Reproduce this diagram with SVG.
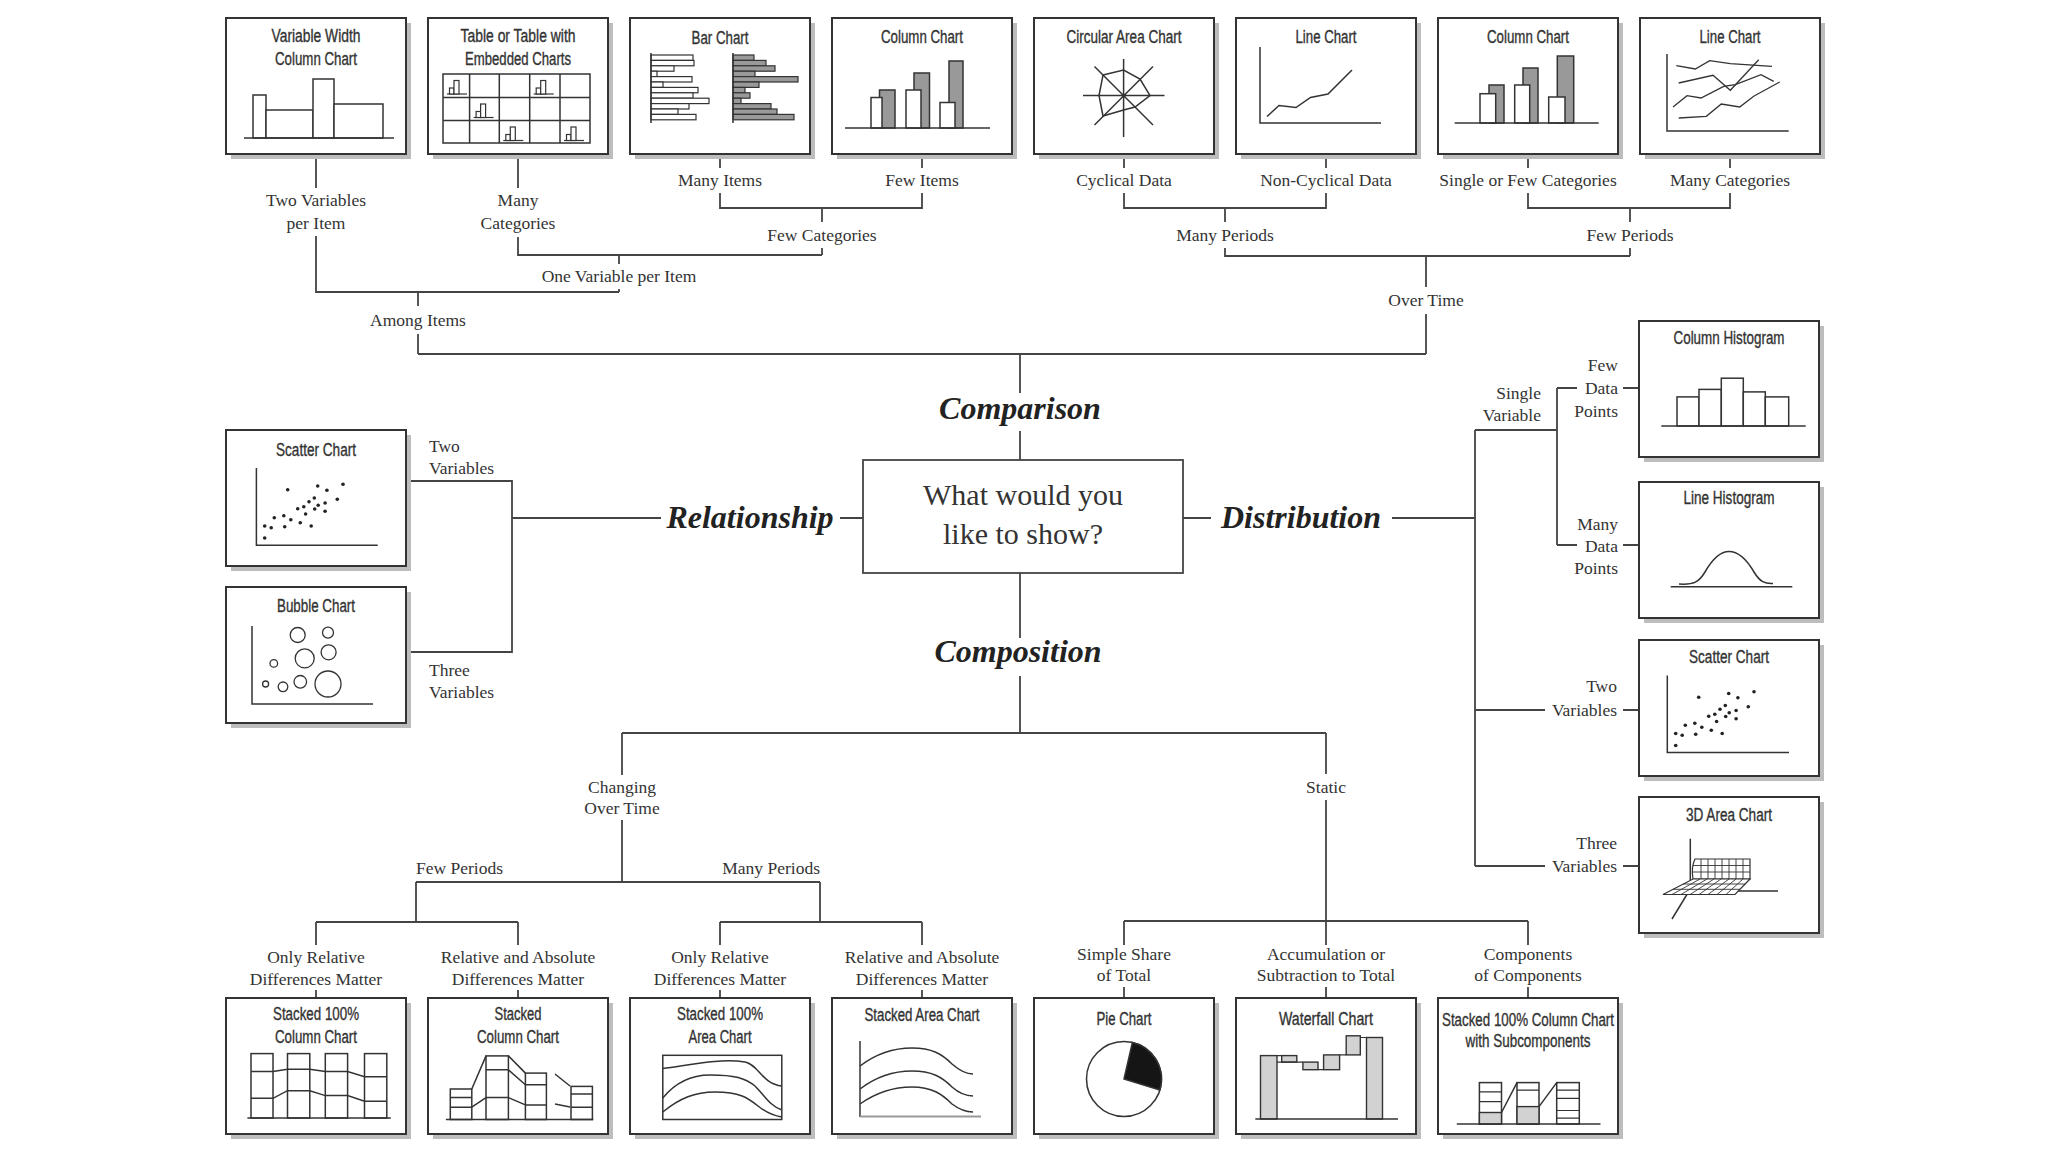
<svg xmlns="http://www.w3.org/2000/svg" xmlns:xlink="http://www.w3.org/1999/xlink" width="2048" height="1152" viewBox="0 0 2048 1152">
<defs>
<style>
.sh{fill:#bdbdbd}
.bx{fill:#fff;stroke:#333;stroke-width:2}
.ln{fill:none;stroke:#444;stroke-width:1.8}
.c{fill:none;stroke:#333;stroke-width:1.5}
.cw{fill:#fff;stroke:#333;stroke-width:1.5}
.cg{fill:#999;stroke:#333;stroke-width:1.5}
.cl{fill:#d2d2d2;stroke:#333;stroke-width:1.4}
.thin{fill:none;stroke:#333;stroke-width:0.9}
.dot{fill:#222}
.ttl{font-family:"Liberation Sans Narrow","Liberation Sans",Arial,sans-serif;font-size:17.5px;fill:#333;stroke:#333;stroke-width:0.35;text-anchor:middle}
.lbl{font-family:"Liberation Serif","Times New Roman",serif;font-size:17.5px;fill:#333;text-anchor:middle}
.st{text-anchor:start}
.en{text-anchor:end}
.big{font-family:"Liberation Serif","Times New Roman",serif;font-style:italic;font-weight:bold;font-size:32px;fill:#222;text-anchor:middle}
.q{font-family:"Liberation Serif","Times New Roman",serif;font-size:30px;fill:#333;text-anchor:middle}
</style>
<g id="mini"><path class="c" style="stroke-width:1.2" d="M4,20 H24"/><rect class="cw" style="stroke-width:1.2" x="6.5" y="14" width="4.5" height="6"/><rect class="cw" style="stroke-width:1.2" x="11" y="6.5" width="5" height="13.5"/></g>
<g id="dots">
<circle class="dot" cx="38.7" cy="108" r="1.8"/><circle class="dot" cx="38.7" cy="96" r="1.8"/><circle class="dot" cx="45.2" cy="97.7" r="1.8"/><circle class="dot" cx="48.3" cy="87.7" r="1.8"/><circle class="dot" cx="57.8" cy="85.7" r="1.8"/><circle class="dot" cx="58.7" cy="96.7" r="1.8"/><circle class="dot" cx="61.7" cy="59.7" r="1.8"/><circle class="dot" cx="64.8" cy="89.7" r="1.8"/><circle class="dot" cx="71.7" cy="78.7" r="1.8"/><circle class="dot" cx="74.3" cy="92.7" r="1.8"/><circle class="dot" cx="77.8" cy="76.7" r="1.8"/><circle class="dot" cx="79.6" cy="84" r="1.8"/><circle class="dot" cx="83" cy="71.7" r="1.8"/><circle class="dot" cx="85.2" cy="96" r="1.8"/><circle class="dot" cx="88.3" cy="68" r="1.8"/><circle class="dot" cx="88.7" cy="79" r="1.8"/><circle class="dot" cx="91.7" cy="56" r="1.8"/><circle class="dot" cx="92.2" cy="75.3" r="1.8"/><circle class="dot" cx="99.1" cy="73" r="1.8"/><circle class="dot" cx="99.1" cy="81.3" r="1.8"/><circle class="dot" cx="100.9" cy="60.3" r="1.8"/><circle class="dot" cx="111.3" cy="69.3" r="1.8"/><circle class="dot" cx="117" cy="54.3" r="1.8"/>
</g>
</defs>
<rect width="2048" height="1152" fill="#fff"/>

<!-- connectors and branch labels -->
<g id="connectors">
<path class="ln" d="M316,154 V188 M316,236 V292 H619 M518,154 V188 M518,237 V255 H822 M720,154 V168 M720,193 V208 H922 V193 M922,168 V154 M822,208 V222 M822,248 V255 M619,255 V264 M619,289 V292 M418,292 V306 M418,334 V354 M418,354 H1426 M1020,354 V393 M1020,431 V460"/>
<path class="ln" d="M1124,154 V168 M1124,193 V208 H1326 V193 M1326,168 V154 M1225,208 V222 M1225,248 V256 H1630 M1528,154 V168 M1528,193 V208 H1730 V193 M1730,168 V154 M1630,208 V222 M1630,248 V256 M1426,256 V287 M1426,314 V354"/>
<path class="ln" d="M863,518 H840 M661,518 H512 M406,481 H512 V652 H406"/>
<path class="ln" d="M1183,518 H1211 M1392,518 H1475 M1475,430 V866 M1475,430 H1557 M1557,388 V545 M1557,388 H1577 M1557,545 H1577 M1623,388 H1639 M1623,545 H1639 M1475,710 H1545 M1623,710 H1639 M1475,866 H1545 M1623,866 H1639"/>
<path class="ln" d="M1020,573 V638 M1020,676 V733 M622,733 H1326 M622,733 V775 M622,820 V882 M416,882 H820 M416,882 V922 M316,922 H518 M820,882 V922 M720,922 H922 M316,922 V945 M518,922 V945 M720,922 V945 M922,922 V945 M316,990 V998 M518,990 V998 M720,990 V998 M922,990 V998"/>
<path class="ln" d="M1326,733 V774 M1326,800 V945 M1124,921 H1528 M1124,921 V945 M1528,921 V945 M1124,987 V998 M1326,987 V998 M1528,987 V998"/>

<text class="lbl" x="316" y="206">Two Variables</text>
<text class="lbl" x="316" y="229">per Item</text>
<text class="lbl" x="518" y="206">Many</text>
<text class="lbl" x="518" y="229">Categories</text>
<text class="lbl" x="720" y="186">Many Items</text>
<text class="lbl" x="922" y="186">Few Items</text>
<text class="lbl" x="1124" y="186">Cyclical Data</text>
<text class="lbl" x="1326" y="186">Non-Cyclical Data</text>
<text class="lbl" x="1528" y="186">Single or Few Categories</text>
<text class="lbl" x="1730" y="186">Many Categories</text>
<text class="lbl" x="822" y="241">Few Categories</text>
<text class="lbl" x="1225" y="241">Many Periods</text>
<text class="lbl" x="1630" y="241">Few Periods</text>
<text class="lbl" x="619" y="282">One Variable per Item</text>
<text class="lbl" x="418" y="326">Among Items</text>
<text class="lbl" x="1426" y="306">Over Time</text>

<text class="lbl st" x="429" y="452">Two</text>
<text class="lbl st" x="429" y="474">Variables</text>
<text class="lbl st" x="429" y="676">Three</text>
<text class="lbl st" x="429" y="698">Variables</text>

<text class="lbl en" x="1541" y="399">Single</text>
<text class="lbl en" x="1541" y="421">Variable</text>
<text class="lbl en" x="1618" y="371">Few</text>
<text class="lbl en" x="1618" y="394">Data</text>
<text class="lbl en" x="1618" y="417">Points</text>
<text class="lbl en" x="1618" y="530">Many</text>
<text class="lbl en" x="1618" y="552">Data</text>
<text class="lbl en" x="1618" y="574">Points</text>
<text class="lbl en" x="1617" y="692">Two</text>
<text class="lbl en" x="1617" y="716">Variables</text>
<text class="lbl en" x="1617" y="849">Three</text>
<text class="lbl en" x="1617" y="872">Variables</text>

<text class="lbl" x="622" y="793">Changing</text>
<text class="lbl" x="622" y="814">Over Time</text>
<text class="lbl" x="1326" y="793">Static</text>
<text class="lbl st" x="416" y="874">Few Periods</text>
<text class="lbl en" x="820" y="874">Many Periods</text>
<text class="lbl" x="316" y="963">Only Relative</text>
<text class="lbl" x="316" y="985">Differences Matter</text>
<text class="lbl" x="518" y="963">Relative and Absolute</text>
<text class="lbl" x="518" y="985">Differences Matter</text>
<text class="lbl" x="720" y="963">Only Relative</text>
<text class="lbl" x="720" y="985">Differences Matter</text>
<text class="lbl" x="922" y="963">Relative and Absolute</text>
<text class="lbl" x="922" y="985">Differences Matter</text>
<text class="lbl" x="1124" y="960">Simple Share</text>
<text class="lbl" x="1124" y="981">of Total</text>
<text class="lbl" x="1326" y="960">Accumulation or</text>
<text class="lbl" x="1326" y="981">Subtraction to Total</text>
<text class="lbl" x="1528" y="960">Components</text>
<text class="lbl" x="1528" y="981">of Components</text>

<text class="big" x="1020" y="419">Comparison</text>
<text class="big" x="750" y="528">Relationship</text>
<text class="big" x="1301" y="528">Distribution</text>
<text class="big" x="1018" y="662">Composition</text>
</g>

<g id="n-question">
<rect x="863" y="460" width="320" height="113" fill="#fff" stroke="#444" stroke-width="1.8"/>
<text class="q" x="1023" y="505">What would you</text>
<text class="q" x="1023" y="544">like to show?</text>
</g>

<!-- top row -->
<g id="n-variable-width" transform="translate(226,18)">
<rect class="sh" x="5" y="5" width="180" height="136"/><rect class="bx" width="180" height="136"/>
<text class="ttl" x="90" y="24" textLength="89" lengthAdjust="spacingAndGlyphs">Variable Width</text><text class="ttl" x="90" y="47" textLength="82" lengthAdjust="spacingAndGlyphs">Column Chart</text>
<rect class="cw" x="27" y="77" width="13" height="43"/><rect class="cw" x="40" y="92" width="47" height="28"/><rect class="cw" x="87" y="61" width="21" height="59"/><rect class="cw" x="108" y="86" width="49" height="34"/>
<path class="c" d="M18,120 H168"/>
</g>

<g id="n-table" transform="translate(428,18)">
<rect class="sh" x="5" y="5" width="180" height="136"/><rect class="bx" width="180" height="136"/>
<text class="ttl" x="90" y="24" textLength="115" lengthAdjust="spacingAndGlyphs">Table or Table with</text><text class="ttl" x="90" y="47" textLength="106" lengthAdjust="spacingAndGlyphs">Embedded Charts</text>
<rect class="c" x="15" y="56" width="147" height="69"/>
<path class="c" d="M41.6,56 V125 M71.3,56 V125 M101.7,56 V125 M132,56 V125 M15,79.5 H162 M15,102.5 H162"/>
<use xlink:href="#mini" href="#mini" x="15" y="56"/><use xlink:href="#mini" href="#mini" x="101.7" y="56"/><use xlink:href="#mini" href="#mini" x="41.6" y="79.5"/><use xlink:href="#mini" href="#mini" x="71.3" y="102.5"/><use xlink:href="#mini" href="#mini" x="132" y="102.5"/>
</g>

<g id="n-bar-chart" transform="translate(630,18)">
<rect class="sh" x="5" y="5" width="180" height="136"/><rect class="bx" width="180" height="136"/>
<text class="ttl" x="90" y="26" textLength="57" lengthAdjust="spacingAndGlyphs">Bar Chart</text>
<g class="cw" style="stroke-width:1.2">
<rect x="21" y="37" width="42" height="5.4"/><rect x="21" y="42.4" width="43" height="5.4"/><rect x="21" y="47.8" width="23" height="5.4"/><rect x="21" y="53.2" width="6" height="5.4"/><rect x="21" y="58.6" width="41" height="5.4"/><rect x="21" y="64" width="12" height="5.4"/><rect x="21" y="69.4" width="47" height="5.4"/><rect x="21" y="74.8" width="42" height="5.4"/><rect x="21" y="80.2" width="58" height="5.4"/><rect x="21" y="85.6" width="38" height="5.4"/><rect x="21" y="91" width="27" height="5.4"/><rect x="21" y="96.4" width="45" height="5.4"/>
</g>
<g class="cg" style="stroke-width:1.2">
<rect x="103" y="37" width="21" height="5.4"/><rect x="103" y="42.4" width="33" height="5.4"/><rect x="103" y="47.8" width="42" height="5.4"/><rect x="103" y="53.2" width="22" height="5.4"/><rect x="103" y="58.6" width="65" height="5.4"/><rect x="103" y="64" width="26" height="5.4"/><rect x="103" y="69.4" width="12" height="5.4"/><rect x="103" y="74.8" width="17" height="5.4"/><rect x="103" y="80.2" width="8" height="5.4"/><rect x="103" y="85.6" width="38" height="5.4"/><rect x="103" y="91" width="44" height="5.4"/><rect x="103" y="96.4" width="61" height="5.4"/>
</g>
<path class="c" d="M21,35 V105 M103,35 V105"/>
</g>

<g id="n-column-chart-1" transform="translate(832,18)">
<rect class="sh" x="5" y="5" width="180" height="136"/><rect class="bx" width="180" height="136"/>
<text class="ttl" x="90" y="25" textLength="82" lengthAdjust="spacingAndGlyphs">Column Chart</text>
<rect class="cg" x="47.5" y="72" width="15.5" height="38"/><rect class="cw" x="39" y="79.5" width="11" height="30.5"/>
<rect class="cg" x="82" y="55" width="15.5" height="55"/><rect class="cw" x="74" y="72" width="15" height="38"/>
<rect class="cg" x="117" y="43" width="14" height="67"/><rect class="cw" x="108" y="84.5" width="15" height="25.5"/>
<path class="c" d="M13,110 H158"/>
</g>

<g id="n-circular-area" transform="translate(1034,18)">
<rect class="sh" x="5" y="5" width="180" height="136"/><rect class="bx" width="180" height="136"/>
<text class="ttl" x="90" y="25" textLength="115" lengthAdjust="spacingAndGlyphs">Circular Area Chart</text>
<path class="c" d="M89.6,41 V119 M49,77.5 H130.5 M60.5,48.5 L119,107 M119,48.5 L60.5,107"/>
<polygon class="c" points="69,57 89.6,52 106,61 116,77.5 101,89 89.6,92 69,98 65,77.5"/>
</g>

<g id="n-line-chart-1" transform="translate(1236,18)">
<rect class="sh" x="5" y="5" width="180" height="136"/><rect class="bx" width="180" height="136"/>
<text class="ttl" x="90" y="25" textLength="61" lengthAdjust="spacingAndGlyphs">Line Chart</text>
<path class="c" d="M24,29 V105 H145"/>
<polyline class="c" points="31,98.5 43,87.5 60,89.5 74.5,79.5 92,76 116,52"/>
</g>

<g id="n-column-chart-2" transform="translate(1438,18)">
<rect class="sh" x="5" y="5" width="180" height="136"/><rect class="bx" width="180" height="136"/>
<text class="ttl" x="90" y="25" textLength="82" lengthAdjust="spacingAndGlyphs">Column Chart</text>
<rect class="cg" x="51" y="67" width="15" height="38"/><rect class="cw" x="42" y="75.7" width="15.7" height="29.3"/>
<rect class="cg" x="85" y="50" width="15" height="55"/><rect class="cw" x="76.7" y="67" width="15" height="38"/>
<rect class="cg" x="119.3" y="38" width="16.4" height="67"/><rect class="cw" x="110.7" y="79" width="16.3" height="26"/>
<path class="c" d="M16.7,105 H160.7"/>
</g>

<g id="n-line-chart-2" transform="translate(1640,18)">
<rect class="sh" x="5" y="5" width="180" height="136"/><rect class="bx" width="180" height="136"/>
<text class="ttl" x="90" y="25" textLength="61" lengthAdjust="spacingAndGlyphs">Line Chart</text>
<path class="c" d="M27,36 V113 H148.7"/>
<polyline class="c" style="stroke-width:1.3" points="36.3,47.7 55.3,51 69.7,42.7 90.3,45.7 132,48.3"/>
<polyline class="c" style="stroke-width:1.3" points="38.7,65 73,57.3 90.3,72.3 118.7,41.7"/>
<polyline class="c" style="stroke-width:1.3" points="33,89 47,77.7 61,80 83.7,68.3 95.3,66.7 121,56.7 133.7,63.3"/>
<polyline class="c" style="stroke-width:1.3" points="38.7,100 66.3,98.3 81.3,86 99.7,89 113.7,78.3 139.7,64"/>
</g>

<!-- left -->
<g id="n-scatter-left" transform="translate(226,430)">
<rect class="sh" x="5" y="5" width="180" height="136"/><rect class="bx" width="180" height="136"/>
<text class="ttl" x="90" y="26" textLength="80" lengthAdjust="spacingAndGlyphs">Scatter Chart</text>
<path class="c" d="M30.4,38 V115.3 H151.7"/>
<use xlink:href="#dots" href="#dots"/>
</g>

<g id="n-bubble" transform="translate(226,587)">
<rect class="sh" x="5" y="5" width="180" height="136"/><rect class="bx" width="180" height="136"/>
<text class="ttl" x="90" y="25" textLength="78" lengthAdjust="spacingAndGlyphs">Bubble Chart</text>
<path class="c" d="M26,39 V117 H147"/>
<g class="c" style="stroke-width:1.3">
<circle cx="71.7" cy="48" r="7.5"/><circle cx="102" cy="45.6" r="5.5"/><circle cx="78.7" cy="71.4" r="9.5"/><circle cx="102.6" cy="65.3" r="7.5"/><circle cx="47.8" cy="76.4" r="3.8"/><circle cx="39.6" cy="97" r="3"/><circle cx="57" cy="99.8" r="4.8"/><circle cx="74.3" cy="94.8" r="6.3"/><circle cx="102" cy="97" r="13"/>
</g>
</g>

<!-- right -->
<g id="n-column-histogram" transform="translate(1639,321)">
<rect class="sh" x="5" y="5" width="180" height="136"/><rect class="bx" width="180" height="136"/>
<text class="ttl" x="90" y="23" textLength="111" lengthAdjust="spacingAndGlyphs">Column Histogram</text>
<rect class="cw" x="38" y="75.9" width="22" height="29.1"/><rect class="cw" x="60" y="68.4" width="22.3" height="36.6"/><rect class="cw" x="82.3" y="57.2" width="22" height="47.8"/><rect class="cw" x="104.3" y="70.9" width="22" height="34.1"/><rect class="cw" x="126.3" y="75.9" width="23.4" height="29.1"/>
<path class="c" d="M22.3,105 H166.7"/>
</g>

<g id="n-line-histogram" transform="translate(1639,482)">
<rect class="sh" x="5" y="5" width="180" height="136"/><rect class="bx" width="180" height="136"/>
<text class="ttl" x="90" y="22" textLength="91" lengthAdjust="spacingAndGlyphs">Line Histogram</text>
<path class="c" d="M31.7,104.8 H153.3"/>
<path class="c" d="M40,102 C55,103 60,100 66,90 C74,76 82,69.5 90,69.5 C100,69.5 108,78 115,90 C121,100 126,102 134,101.5"/>
</g>

<g id="n-scatter-right" transform="translate(1639,640)">
<rect class="sh" x="5" y="5" width="180" height="136"/><rect class="bx" width="180" height="136"/>
<text class="ttl" x="90" y="23" textLength="80" lengthAdjust="spacingAndGlyphs">Scatter Chart</text>
<path class="c" d="M28.3,35.4 V112.6 H150"/>
<use xlink:href="#dots" href="#dots" x="-2" y="-2.5"/>
</g>

<g id="n-3d-area" transform="translate(1639,797)">
<rect class="sh" x="5" y="5" width="180" height="136"/><rect class="bx" width="180" height="136"/>
<text class="ttl" x="90" y="24" textLength="86" lengthAdjust="spacingAndGlyphs">3D Area Chart</text>
<path class="c" d="M51.3,41.8 V92 L33,122 M51.3,94 H139"/>
<path class="cw" style="stroke-width:1.2" d="M56,62 H111 V82 H54 Q52,70 56,62 Z"/>
<path class="thin" d="M62,62 V82 M69,62 V82 M76,62 V82 M83,62 V82 M90,62 V82 M97,62 V82 M104,62 V82 M54,68.5 H111 M53,75 H111"/>
<path class="cw" style="stroke-width:1.2" d="M54,82 H111 L96,97.5 H24 Z"/>
<path class="thin" d="M33,97.5 L61,82 M42,97.5 L68,82 M51,97.5 L75,82 M60,97.5 L82,82 M69,97.5 L90,82 M78,97.5 L97,82 M87,97.5 L104,82 M44,87 H106 M34,92.3 H101"/>
</g>

<!-- bottom row -->
<g id="n-stacked100-column" transform="translate(226,998)">
<rect class="sh" x="5" y="5" width="180" height="136"/><rect class="bx" width="180" height="136"/>
<text class="ttl" x="90" y="22" textLength="86" lengthAdjust="spacingAndGlyphs">Stacked 100%</text><text class="ttl" x="90" y="45" textLength="82" lengthAdjust="spacingAndGlyphs">Column Chart</text>
<rect class="cw" x="25" y="55.6" width="22" height="64.4"/><rect class="cw" x="61.5" y="55.6" width="22.3" height="64.4"/><rect class="cw" x="99.3" y="55.6" width="22.3" height="64.4"/><rect class="cw" x="138.5" y="55.6" width="22.3" height="64.4"/>
<polyline class="c" points="25,73.5 47,73.5 61.5,71.2 83.8,71.2 99.3,73.5 121.6,73.5 138.5,78.8 160.8,78.8"/>
<polyline class="c" points="25,100.3 47,100.3 61.5,92.7 83.8,92.7 99.3,97.6 121.6,97.6 138.5,103.3 160.8,103.3"/>
<path class="c" d="M21.4,120 H164.8"/>
</g>

<g id="n-stacked-column" transform="translate(428,998)">
<rect class="sh" x="5" y="5" width="180" height="136"/><rect class="bx" width="180" height="136"/>
<text class="ttl" x="90" y="22" textLength="47" lengthAdjust="spacingAndGlyphs">Stacked</text><text class="ttl" x="90" y="45" textLength="82" lengthAdjust="spacingAndGlyphs">Column Chart</text>
<rect class="cw" x="22.3" y="91" width="21.5" height="30.5"/><rect class="cw" x="58" y="57.9" width="22.4" height="63.6"/><rect class="cw" x="97.4" y="75.1" width="21" height="46.4"/><rect class="cw" x="143" y="88.4" width="21.4" height="33.1"/>
<path class="c" d="M22.3,99.6 H43.8 M22.3,109.2 H43.8 M58,71.8 H80.4 M58,99.6 H80.4 M97.4,86.7 H118.4 M97.4,106.9 H118.4 M143,96 H164.4 M143,109.2 H164.4"/>
<path class="c" d="M43.8,91 L58,57.9 M43.8,109.2 L58,99.6 M80.4,57.9 L97.4,75.1 M80.4,71.8 L97.4,86.7 M80.4,99.6 L97.4,106.9 M127,76 L142,88 M127,106 L142,109"/>
<path class="c" d="M17.9,121.5 H165.3"/>
</g>

<g id="n-stacked100-area" transform="translate(630,998)">
<rect class="sh" x="5" y="5" width="180" height="136"/><rect class="bx" width="180" height="136"/>
<text class="ttl" x="90" y="22" textLength="86" lengthAdjust="spacingAndGlyphs">Stacked 100%</text><text class="ttl" x="90" y="45" textLength="63" lengthAdjust="spacingAndGlyphs">Area Chart</text>
<rect class="c" x="32.8" y="57.3" width="119" height="64.2"/>
<path class="c" d="M32.8,70.5 C60,67 90,60 115,64 C128,66 132,86 151.8,88"/>
<path class="c" d="M32.8,100 C45,85 60,77 80,77 C105,77 115,80 125,88 C135,98 140,108 151.8,112"/>
<path class="c" d="M32.8,114 C50,100 65,94 85,94 C110,94 118,100 128,108 C138,116 145,118 151.8,119"/>
</g>

<g id="n-stacked-area" transform="translate(832,998)">
<rect class="sh" x="5" y="5" width="180" height="136"/><rect class="bx" width="180" height="136"/>
<text class="ttl" x="90" y="23" textLength="115" lengthAdjust="spacingAndGlyphs">Stacked Area Chart</text>
<path class="c" d="M28,43 V119"/>
<path d="M28,118.5 H149" fill="none" stroke="#999" stroke-width="1.8"/>
<path class="c" d="M28,68 C45,55 62,50 80,50 C100,50 110,56 120,66 C128,73 135,76 141,76"/>
<path class="c" d="M28,91 C45,78 62,73 80,73 C100,73 110,79 120,89 C128,96 135,98 141,98"/>
<path class="c" d="M28,106 C45,94 62,89 80,89 C100,89 110,96 120,106 C128,112 135,114 141,114"/>
</g>

<g id="n-pie" transform="translate(1034,998)">
<rect class="sh" x="5" y="5" width="180" height="136"/><rect class="bx" width="180" height="136"/>
<text class="ttl" x="90" y="27" textLength="55" lengthAdjust="spacingAndGlyphs">Pie Chart</text>
<circle class="cw" cx="90" cy="81" r="37.5"/>
<path d="M90,81 L98.4,44.5 A37.5,37.5 0 0 1 125.9,92 Z" fill="#151515" stroke="#333" stroke-width="1.5"/>
</g>

<g id="n-waterfall" transform="translate(1236,998)">
<rect class="sh" x="5" y="5" width="180" height="136"/><rect class="bx" width="180" height="136"/>
<text class="ttl" x="90" y="27" textLength="94" lengthAdjust="spacingAndGlyphs">Waterfall Chart</text>
<rect class="cl" x="24.5" y="57.6" width="16.5" height="63.4"/><rect class="cl" x="45.7" y="57.6" width="15.1" height="6.5"/><rect class="cl" x="66.9" y="64.1" width="15.1" height="7.6"/><rect class="cl" x="87.6" y="56.9" width="16" height="14.8"/><rect class="cl" x="110.2" y="37.8" width="14.1" height="19.1"/><rect class="cl" x="130.5" y="39.5" width="16" height="81.5"/>
<path class="c" style="stroke-width:1.2" d="M41,57.6 H45.7 M41,64.1 H66.9 M60.8,64.1 H66.9 M82,71.7 H87.6 M103.6,56.9 H110.2 M124.3,39.5 H130.5"/>
<path class="c" d="M19.3,121 H162"/>
</g>

<g id="n-subcomponents" transform="translate(1438,998)">
<rect class="sh" x="5" y="5" width="180" height="136"/><rect class="bx" width="180" height="136"/>
<text class="ttl" x="90" y="28" textLength="172" lengthAdjust="spacingAndGlyphs">Stacked 100% Column Chart</text><text class="ttl" x="90" y="49" textLength="125" lengthAdjust="spacingAndGlyphs">with Subcomponents</text>
<rect class="cw" x="41.4" y="84.6" width="22.1" height="41.4"/><rect class="cl" x="41.4" y="114.5" width="22.1" height="11.5"/>
<rect class="cw" x="79" y="84.6" width="22" height="41.4"/><rect class="cl" x="79" y="108.6" width="22" height="17.4"/>
<rect class="cw" x="118.7" y="84.6" width="22.6" height="41.4"/>
<path class="c" style="stroke-width:1.2" d="M41.4,93.8 H63.5 M41.4,103.7 H63.5 M79,92.2 H101 M118.7,92.2 H141.3 M118.7,100.3 H141.3 M118.7,112.5 H141.3 M118.7,120.1 H141.3"/>
<path class="c" d="M63.5,114.5 L79,84.6 M101,108.6 L118.7,84.6"/>
<path class="c" d="M18.8,126 H162.5"/>
</g>
</svg>
